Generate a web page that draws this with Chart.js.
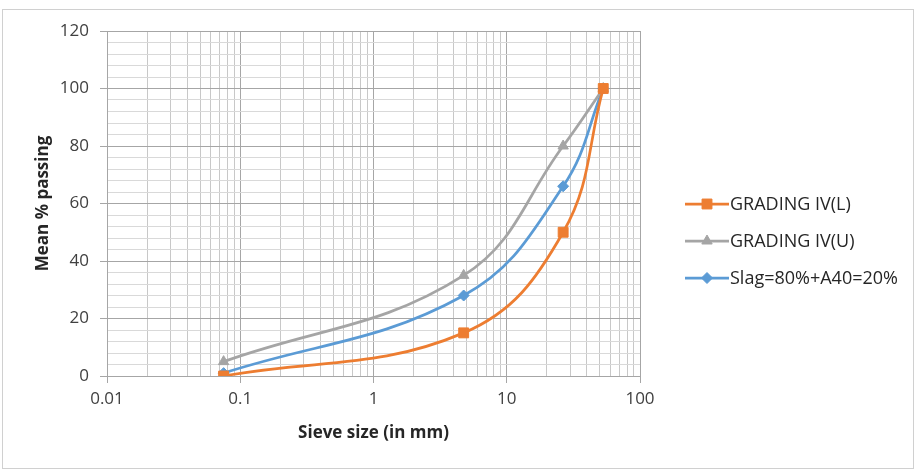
<!DOCTYPE html>
<html lang="en">
<head>
    <meta charset="UTF-8">
    <title>Sieve analysis</title>
    <script src="https://cdn.jsdelivr.net/npm/chart.js@4/dist/chart.umd.min.js"></script>
    <style>
        * { margin: 0; padding: 0; }
        body { background: #fff; }
    </style>
</head>
<body>
<div style="position: relative; width: 916px; height: 476px"><canvas id="myChart"></canvas></div>
<script>
    // sieve sizes (mm) and % passing
    var sieveSizes = [0.075, 4.75, 26.5, 53];
    var gradingL = [0, 15, 50, 100];
    var gradingU = [5, 35, 80, 100];
    var slagMix = [1, 28, 66, 100];

    var xDecades = [0.01, 0.1, 1, 10, 100];
    var xLabels = ['0.01', '0.1', '1', '10', '100'];
    var yLabels = [0, 20, 40, 60, 80, 100, 120];

    var orange = '#ED7D31', grey = '#A5A5A5', blue = '#5B9BD5';
    var majorGrid = '#a6a6a6', minorGrid = '#d9d9d9';

    function pts(ys) {
        var out = [];
        for (var i = 0; i < sieveSizes.length; i++) out.push({x: sieveSizes[i], y: ys[i]});
        return out;
    }
    function isDecade(v) {
        for (var i = 0; i < xDecades.length; i++) if (Math.abs(v / xDecades[i] - 1) < 1e-6) return i;
        return -1;
    }

    // little line+marker picture for the legend
    function legendIcon(color, style, r) {
        var c = document.createElement('canvas');
        c.width = 44; c.height = 18;
        var g = c.getContext('2d');
        g.strokeStyle = color; g.fillStyle = color; g.lineWidth = 2.75;
        g.beginPath(); g.moveTo(0, 9); g.lineTo(44, 9); g.stroke();
        g.lineWidth = 1;
        Chart.helpers.drawPoint(g, {pointStyle: style, radius: r, borderWidth: 1}, 22, 9);
        return c;
    }

    var series = [
        {label: 'GRADING IV(L)', data: gradingL, color: orange, style: 'rect', r: 7},
        {label: 'GRADING IV(U)', data: gradingU, color: grey, style: 'triangle', r: 6},
        {label: 'Slag=80%+A40=20%', data: slagMix, color: blue, style: 'rectRot', r: 5.5}
    ];

    var frame = {
        id: 'frame',
        beforeDraw: function (chart) {
            var c = chart.ctx;
            c.save();
            c.fillStyle = '#fff';
            c.fillRect(0, 0, chart.width, chart.height);
            c.strokeStyle = '#d0d0d0';
            c.lineWidth = 1;
            c.strokeRect(2.5, 9.5, 911, 459);
            c.restore();
        },
        afterDraw: function (chart) {
            var c = chart.ctx;
            c.save();
            c.font = '18px "Open Sans"';
            c.textBaseline = 'middle';
            for (var i = 0; i < series.length; i++) {
                var s = series[i];
                var y = 204 + i * 37;
                c.drawImage(legendIcon(s.color, s.style, s.r), 685, y - 9);
                c.fillStyle = '#262626';
                c.fillText(s.label, 730, y + 1);
            }
            c.restore();
        }
    };

    var datasets = series.map(function (s) {
        return {
            label: s.label,
            data: pts(s.data),
            borderColor: s.color,
            backgroundColor: s.color,
            borderWidth: 2.75,
            pointStyle: s.style,
            pointRadius: s.r,
            pointHoverRadius: s.r,
            pointBorderWidth: 1,
            tension: 0.4,
            fill: false
        };
    });

    var ctx = document.getElementById('myChart').getContext('2d');
    var myChart = new Chart(ctx, {
        type: 'line',
        data: {datasets: datasets},
        plugins: [frame],
        options: {
            responsive: true,
            maintainAspectRatio: false,
            animation: false,
            layout: {padding: {left: 0, top: 31, right: 276, bottom: 0}},
            plugins: {legend: {display: false}, tooltip: {enabled: false}},
            scales: {
                x: {
                    type: 'logarithmic',
                    min: 0.01,
                    max: 100,
                    afterBuildTicks: function (scale) {
                        var t = [];
                        for (var d = 0; d < xDecades.length; d++) {
                            var top = d === xDecades.length - 1 ? 1 : 9;
                            for (var m = 1; m <= top; m++) t.push({value: xDecades[d] * m});
                        }
                        scale.ticks = t;
                    },
                    afterFit: function (scale) { scale.height = 100; },
                    ticks: {
                        autoSkip: false,
                        maxRotation: 0,
                        minRotation: 0,
                        padding: 6,
                        color: '#404040',
                        font: {family: 'Open Sans', size: 17},
                        callback: function (v) {
                            var k = isDecade(v);
                            return k >= 0 ? xLabels[k] : '';
                        }
                    },
                    grid: {
                        color: function (c) { return c.tick && isDecade(c.tick.value) >= 0 ? majorGrid : '#c8c8c8'; },
                        tickColor: function (c) { return c.tick && isDecade(c.tick.value) >= 0 ? majorGrid : 'rgba(0,0,0,0)'; },
                        tickLength: 7
                    },
                    border: {color: majorGrid},
                    title: {
                        display: true,
                        text: 'Sieve size (in mm)',
                        color: '#262626',
                        font: {family: 'Open Sans', size: 17, weight: 'bold'},
                        padding: {top: 0, bottom: 33}
                    }
                },
                y: {
                    min: 0,
                    max: 120,
                    afterFit: function (scale) { scale.width = 107; },
                    ticks: {
                        stepSize: 4,
                        autoSkip: false,
                        padding: 11,
                        color: '#404040',
                        font: {family: 'Open Sans', size: 17},
                        callback: function (v) { return yLabels.indexOf(v) >= 0 ? String(v) : ''; }
                    },
                    grid: {
                        color: function (c) { return c.tick && c.tick.value % 20 === 0 ? majorGrid : minorGrid; },
                        tickColor: function (c) { return c.tick && c.tick.value % 20 === 0 ? majorGrid : 'rgba(0,0,0,0)'; },
                        tickLength: 7
                    },
                    border: {color: majorGrid},
                    title: {
                        display: true,
                        text: 'Mean % passing',
                        color: '#262626',
                        font: {family: 'Open Sans', size: 17, weight: 'bold'},
                        padding: {top: 33, bottom: 0}
                    }
                }
            }
        }
    });
</script>
</body>
</html>
